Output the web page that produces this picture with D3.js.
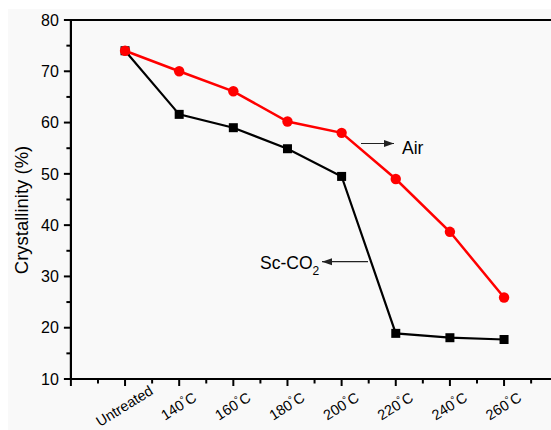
<!DOCTYPE html>
<html><head><meta charset="utf-8">
<script src="https://cdn.jsdelivr.net/npm/d3@7"></script>
<style>body{margin:0;background:#fff}svg{display:block;font-family:"Liberation Sans",Arial,sans-serif}</style>
</head><body><svg id="c" width="551" height="430"></svg>
<script>
const categories = ["Untreated","140","160","180","200","220","240","260"];
const airValues = [74, 70, 66.1, 60.2, 58, 49, 38.7, 25.9];
const scco2Values = [74, 61.6, 59, 54.9, 49.5, 18.9, 18.05, 17.7];
const yTicks = [10,20,30,40,50,60,70,80];

const svg = d3.select("#c");
svg.append("rect").attr("x",8).attr("y",9).attr("width",543).attr("height",421).attr("fill","#f9f9f9");

const x = d3.scaleLinear().domain([-1, 8]).range([70.9, 558.2]);
const y = d3.scaleLinear().domain([10, 80]).range([379, 20]);

const g = svg.append("g");
g.append("line").attr("x1",x(-1)).attr("x2",551).attr("y1",y(80)).attr("y2",y(80)).attr("stroke","#000").attr("stroke-width",2.2);

const xMajor = d3.range(-1, 9);
const xMinor = d3.range(-0.5, 8, 1);
const xa = g.append("g").attr("transform",`translate(0,${y(10)})`);
xa.append("line").attr("x1",x(-1)-1).attr("x2",551).attr("stroke","#000").attr("stroke-width",2.2);
xa.selectAll(".mj").data(xMajor).join("line").attr("x1",d=>x(d)).attr("x2",d=>x(d)).attr("y1",0).attr("y2",7).attr("stroke","#000").attr("stroke-width",2);
xa.selectAll(".mn").data(xMinor).join("line").attr("x1",d=>x(d)).attr("x2",d=>x(d)).attr("y1",0).attr("y2",4.5).attr("stroke","#000").attr("stroke-width",2);

const xl = xa.selectAll(".lb").data(categories).join("text")
  .attr("transform",(d,i)=>`translate(${x(i)},${28}) rotate(-32)`)
  .attr("text-anchor","middle").attr("dominant-baseline","middle")
  .attr("font-size",14.5).attr("fill","#000");
xl.each(function(d){
  const t = d3.select(this);
  if (d === "Untreated") { t.text(d); }
  else {
    t.append("tspan").text(d);
    t.append("tspan").text("°").attr("font-size",10).attr("dy",-4);
    t.append("tspan").text("C").attr("dy",4);
  }
});

const ya = g.append("g").attr("transform",`translate(${x(-1)},0)`);
ya.append("line").attr("y1",y(80)-1).attr("y2",y(10)+1).attr("stroke","#000").attr("stroke-width",2.2);
ya.selectAll(".mj").data(yTicks).join("line").attr("x1",0).attr("x2",-7).attr("y1",d=>y(d)).attr("y2",d=>y(d)).attr("stroke","#000").attr("stroke-width",2);
ya.selectAll(".mn").data(d3.range(15,80,10)).join("line").attr("x1",0).attr("x2",-4.5).attr("y1",d=>y(d)).attr("y2",d=>y(d)).attr("stroke","#000").attr("stroke-width",2);
ya.selectAll(".lb").data(yTicks).join("text").attr("x",-12).attr("y",d=>y(d)).attr("dy","0.36em")
  .attr("text-anchor","end").attr("font-size",16).text(d=>d);

svg.append("text").attr("transform",`translate(28,${210}) rotate(-90)`).attr("text-anchor","middle")
  .attr("font-size",18.5).text("Crystallinity (%)");

const line = d3.line().x((d,i)=>x(i)).y(d=>y(d));
svg.append("path").datum(scco2Values).attr("d",line).attr("fill","none").attr("stroke","#000").attr("stroke-width",2.2);
svg.selectAll(".sq").data(scco2Values).join("rect").attr("x",(d,i)=>x(i)-4.5).attr("y",d=>y(d)-4.5).attr("width",9).attr("height",9).attr("fill","#000");
svg.append("path").datum(airValues).attr("d",line).attr("fill","none").attr("stroke","#ff0000").attr("stroke-width",2.5);
svg.selectAll(".ci").data(airValues).join("circle").attr("cx",(d,i)=>x(i)).attr("cy",d=>y(d)).attr("r",5.2).attr("fill","#ff0000");

const defs = svg.append("defs");
defs.append("marker").attr("id","ah").attr("viewBox","0 0 10 10").attr("refX",10).attr("refY",5)
  .attr("markerWidth",10).attr("markerHeight",10).attr("markerUnits","userSpaceOnUse").attr("orient","auto")
  .append("path").attr("d","M0,1.5 L10,5 L0,8.5 Z").attr("fill","#222");
svg.append("line").attr("x1",361).attr("x2",394).attr("y1",143.5).attr("y2",143.5).attr("stroke","#222").attr("stroke-width",1.2).attr("marker-end","url(#ah)");
svg.append("text").attr("x",402).attr("y",153.5).attr("font-size",17.5).text("Air");
svg.append("line").attr("x1",368).attr("x2",322).attr("y1",261.7).attr("y2",261.7).attr("stroke","#222").attr("stroke-width",1.2).attr("marker-end","url(#ah)");
const st = svg.append("text").attr("x",260).attr("y",268.5).attr("font-size",17.5);
st.append("tspan").text("Sc-CO");
st.append("tspan").text("2").attr("font-size",12).attr("dy",6);
</script></body></html>
